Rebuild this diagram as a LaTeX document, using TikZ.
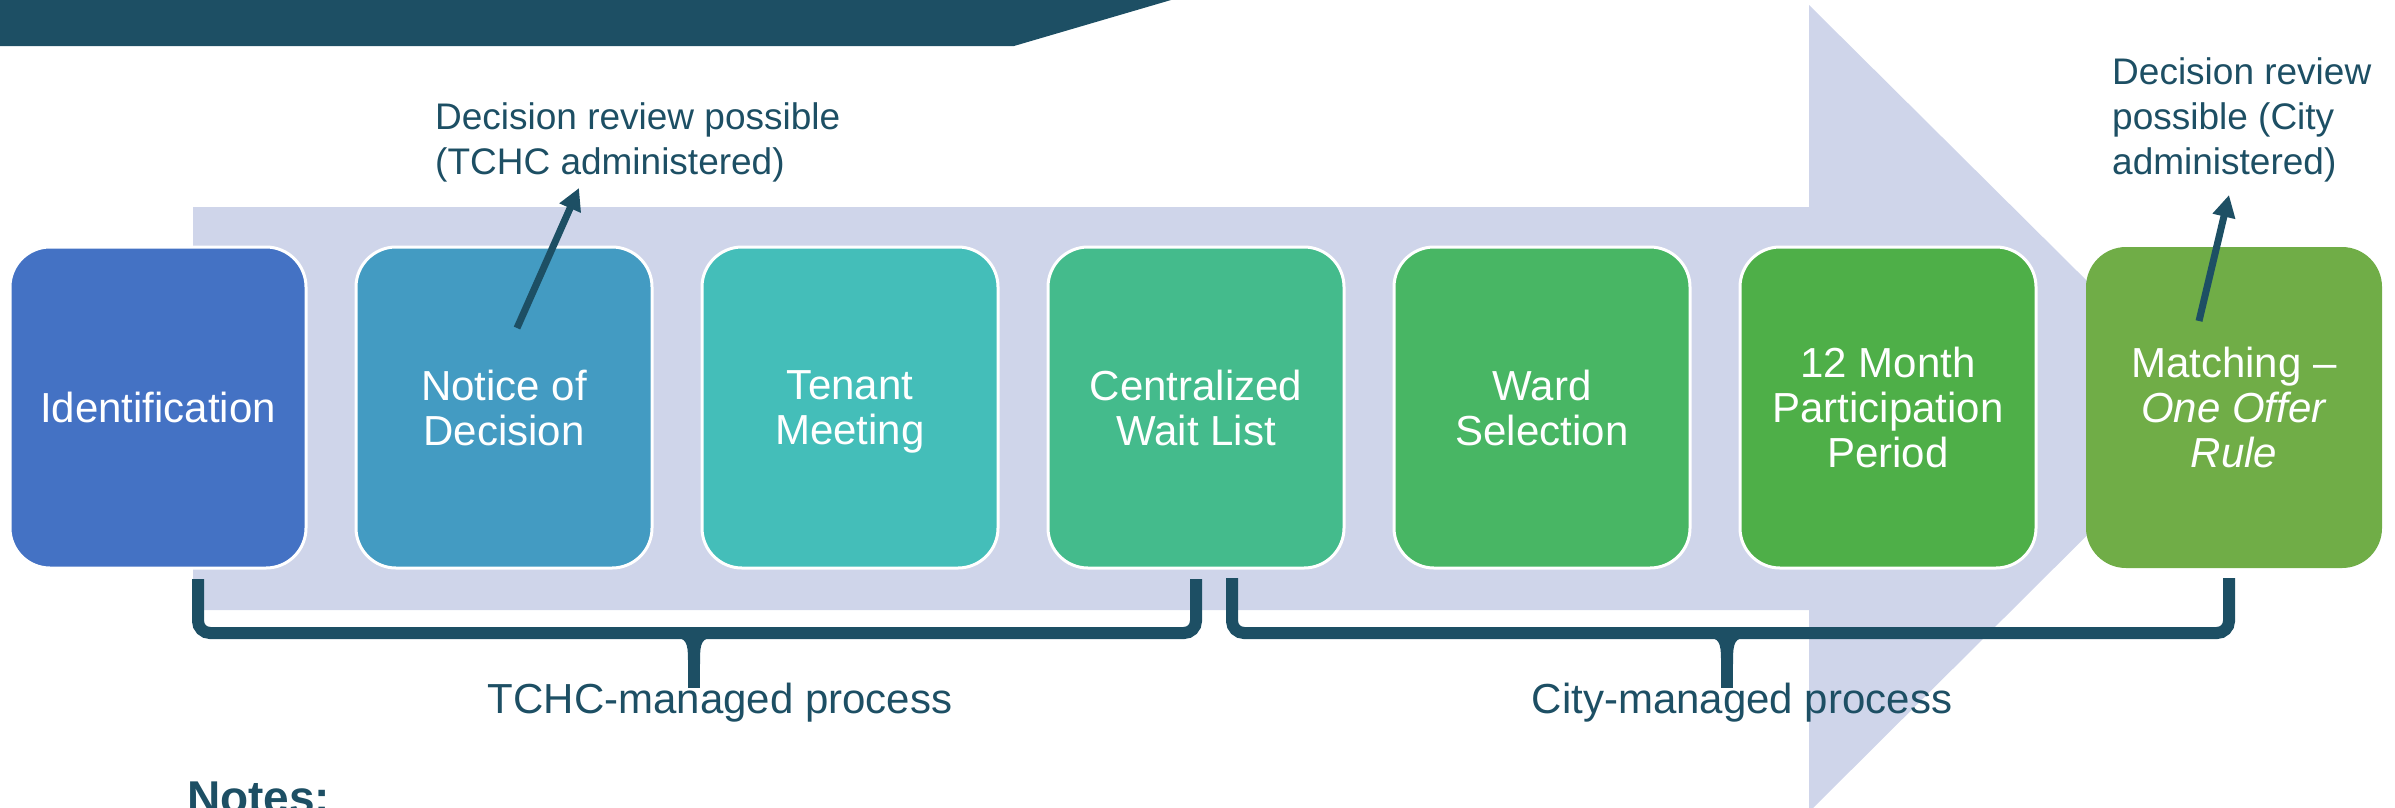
\documentclass[tikz,border=0pt]{standalone}
\usepackage{fontspec}
\setmainfont{Liberation Sans}
\usetikzlibrary{arrows.meta}
\definecolor{navy}{HTML}{1D4F64}
\definecolor{lav}{HTML}{CFD5EA}
\definecolor{cA}{HTML}{4472C4}
\definecolor{cB}{HTML}{439BC2}
\definecolor{cC}{HTML}{44BEB9}
\definecolor{cD}{HTML}{44BB8C}
\definecolor{cE}{HTML}{48B664}
\definecolor{cF}{HTML}{4EAF48}
\definecolor{cG}{HTML}{70AD47}
\begin{document}
\begin{tikzpicture}[x=1pt,y=-1pt,
  stepbox/.style={rectangle, rounded corners=40pt, minimum width=296pt, minimum height=321pt,
    inner sep=0pt, text=white, align=center, font=\fontsize{42}{45}\selectfont,
    draw=white, line width=3pt},
  annot/.style={inner sep=0pt, text=navy, align=left, font=\fontsize{37}{45}\selectfont},
  lbl/.style={inner sep=0pt, text=navy, font=\fontsize{42}{45}\selectfont},
  conn/.style={draw=navy, line width=7pt, -{Triangle[length=22pt,width=22pt]}},
  brk/.style={draw=navy, line width=12pt, rounded corners=12pt},
  tipline/.style={draw=navy, line width=12pt}]
\useasboundingbox (0,0) rectangle (2395,807);
% banner
\fill[navy] (0,0) -- (1171,0) -- (1014,46) -- (0,46) -- cycle;
% background arrow
\fill[lav] (193,207) -- (1809,207) -- (1809,5) -- (2215,408) -- (1809,812) -- (1809,610) -- (193,610) -- cycle;
% boxes
\node[stepbox, fill=cA] (b1) at (158,407.5) {Identification};
\node[stepbox, fill=cB] (b2) at (504,407.5) {Notice of\\Decision};
\node[stepbox, fill=cC] (b3) at (850,407.5) {Tenant\\\smash{Meeting}};
\node[stepbox, fill=cD] (b4) at (1196,407.5) {Centralized\\Wait List};
\node[stepbox, fill=cE] (b5) at (1542,407.5) {Ward\\Selection};
\node[stepbox, fill=cF] (b6) at (1888,407.5) {12 Month\\Participation\\Period};
\node[stepbox, fill=cG, draw=none] (b7) at (2234,407.5) {Matching --\\\textit{One Offer}\\\textit{Rule}};
% annotations
\node[annot, anchor=north west] (n1) at (435,102) {Decision review possible\\(TCHC administered)};
\node[annot, anchor=north west] (n2) at (2112,57) {Decision review\\possible (City\\administered)};
\coordinate (a1s) at (517,328);
\coordinate (a1e) at (579,188);
\coordinate (a2s) at (2199,321);
\coordinate (a2e) at (2229,195);
\draw[conn] (a1s) -- (a1e);
\draw[conn] (a2s) -- (a2e);
% brackets
\draw[brk] (198,579) -- (198,633) -- (1196,633) -- (1196,579);
\draw[tipline] (694,633) -- (694,688);
\fill[navy] (678,638) .. controls (688,639) and (688,648) .. (688,664) -- (700,664) .. controls (700,648) and (700,639) .. (710,638) -- cycle;
\draw[brk] (1232,578) -- (1232,633) -- (2229,633) -- (2229,578);
\draw[tipline] (1727,633) -- (1727,688);
\fill[navy] (1711,638) .. controls (1721,639) and (1721,648) .. (1721,664) -- (1733,664) .. controls (1733,648) and (1733,639) .. (1743,638) -- cycle;
% labels
\node[lbl, anchor=base] (t1) at (720,713) {TCHC-managed process};
\node[lbl, anchor=base] (t2) at (1742,713) {City-managed process};
\node[inner sep=0pt, text=navy, font=\fontsize{46}{50}\selectfont\bfseries, anchor=base west] (notes) at (187,813) {Notes:};
\end{tikzpicture}
\end{document}
